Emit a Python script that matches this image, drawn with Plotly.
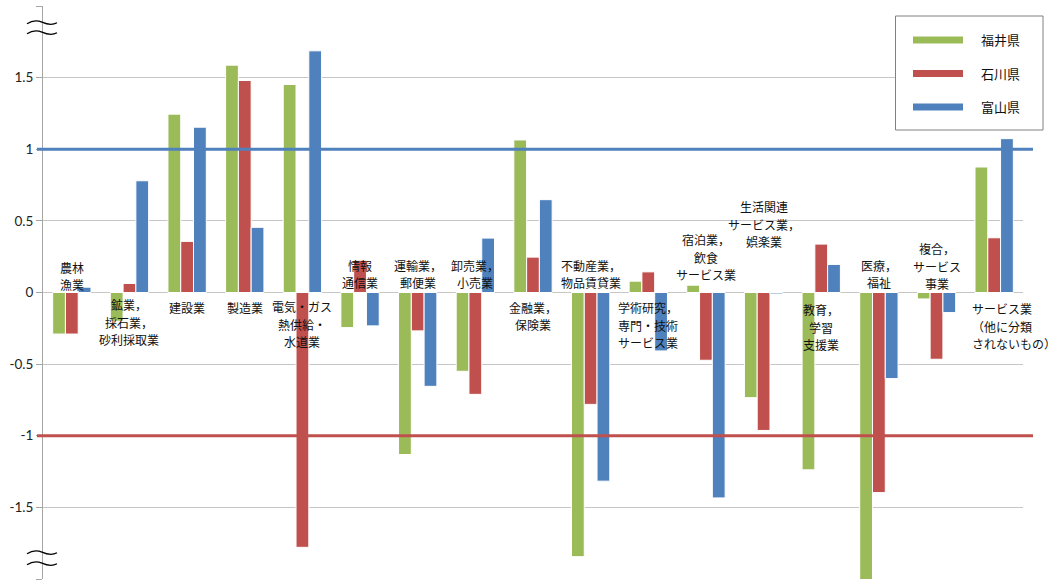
import plotly.graph_objects as go

# 産業別の特化係数（北陸3県）
categories = [
    "農林漁業", "鉱業，採石業，砂利採取業", "建設業", "製造業",
    "電気・ガス・熱供給・水道業", "情報通信業", "運輸業，郵便業", "卸売業，小売業",
    "金融業，保険業", "不動産業，物品賃貸業", "学術研究，専門・技術サービス業",
    "宿泊業，飲食サービス業", "生活関連サービス業，娯楽業", "教育，学習支援業",
    "医療，福祉", "複合サービス事業", "サービス業（他に分類されないもの）",
]
fukui = [-0.29, -0.20, 1.245, 1.587, 1.452, -0.245, -1.131, -0.55, 1.065,
         -1.844, 0.079, 0.051, -0.734, -1.238, -2.10, -0.045, 0.876]
ishikawa = [-0.29, 0.063, 0.357, 1.48, -1.779, 0.225, -0.268, -0.711, 0.247,
            -0.781, 0.144, -0.473, -0.963, 0.338, -1.397, -0.466, 0.382]
toyama = [0.037, 0.78, 1.154, 0.455, 1.687, -0.233, -0.655, 0.38, 0.648,
          -1.317, -0.408, -1.434, -0.01, 0.196, -0.601, -0.14, 1.074]

series_names = ["福井県", "石川県", "富山県"]
series_colors = ["#9BBB59", "#C0504D", "#4F81BD"]

# 図中に置く産業名（行ごと）
label_lines = [
    ["農林", "漁業"], ["鉱業，", "採石業，", "砂利採取業"], ["建設業"], ["製造業"],
    ["電気・ガス", "熱供給・", "水道業"], ["情報", "通信業"], ["運輸業，", "郵便業"],
    ["卸売業，", "小売業"], ["金融業，", "保険業"], ["不動産業，", "物品賃貸業"],
    ["学術研究，", "専門・技術", "サービス業"], ["宿泊業，", "飲食", "サービス業"],
    ["生活関連", "サービス業，", "娯楽業"], ["教育，", "学習", "支援業"], ["医療，", "福祉"],
    ["複合，", "サービス", "事業"], ["サービス業", "（他に分類", "されないもの）"],
]
label_y = [0.117, -0.208, -0.105, -0.105, -0.222, 0.131, 0.131, 0.131, -0.166,
           0.131, -0.229, 0.247, 0.478, -0.243, 0.128, 0.184, -0.236]

y_ticks = [-2, -1.5, -1, -0.5, 0, 0.5, 1, 1.5, 2]
y_ticktext = ["", "-1.5", "-1", "-0.5", "0", "0.5", "1", "1.5", ""]

# 基準線（±1）
upper_ref, lower_ref = 1, -1

W, H = 1056, 580
ML, MR, MT, MB = 43, 33, 6, 1
PW, PH = W - ML - MR, H - MT - MB
LINE_STEP = 17.4
LABEL_SIZE = 12


def px(x):
    return (x - ML) / PW


def py(y):
    return (H - MB - y) / PH


fig = go.Figure()
for name, vals, col in zip(series_names, [fukui, ishikawa, toyama], series_colors):
    fig.add_trace(go.Bar(
        x=list(range(len(categories))), y=vals, name=name,
        marker=dict(color=col, line=dict(color="white", width=1)),
        hovertext=categories, showlegend=False,
    ))

shapes = []
# ±1 の基準線
for val, col in [(upper_ref, series_colors[2]), (lower_ref, series_colors[1])]:
    shapes.append(dict(type="line", xref="paper", yref="y",
                       x0=px(37), x1=px(1033), y0=val, y1=val,
                       line=dict(color=col, width=3), layer="above"))


# 軸の省略記号（≈）
def tilde(y0):
    pts = [(27, y0 + 0.8), (33, y0 - 3.2), (38, y0 - 2.6), (42, y0 - 0.8),
           (52, y0 + 2.6), (57, y0 - 0.2)]
    (x0, a), (x1, b), (x2, c), (x3, d), (x4, e), (x5, f) = pts
    return (f"M {px(x0)},{py(a)} C {px(x1)},{py(b)} {px(x2)},{py(c)} {px(x3)},{py(d)} "
            f"S {px(x4)},{py(e)} {px(x5)},{py(f)}")


for yy in [23, 33, 553, 564]:
    shapes.append(dict(type="path", xref="paper", yref="paper", path=tilde(yy),
                       line=dict(color="black", width=1.3)))

# 凡例
shapes.append(dict(type="rect", xref="paper", yref="paper",
                   x0=px(895.5), x1=px(1043), y0=py(16), y1=py(130),
                   fillcolor="white", line=dict(color="#808080", width=1), layer="above"))
annotations = []
for i, (name, col) in enumerate(zip(series_names, series_colors)):
    yy = 40 + i * 33.5
    shapes.append(dict(type="line", xref="paper", yref="paper",
                       x0=px(913), x1=px(963), y0=py(yy), y1=py(yy),
                       line=dict(color=col, width=7), layer="above"))
    annotations.append(dict(xref="paper", yref="paper", x=px(979), y=py(yy),
                            text=name, showarrow=False, xanchor="left", yanchor="middle",
                            font=dict(family="Noto Sans CJK JP", size=13, color="#111")))

# 産業名ラベル（1行ずつ配置）
for i, (lines, yv) in enumerate(zip(label_lines, label_y)):
    last = i == len(label_lines) - 1
    n = len(lines)
    for k, line in enumerate(lines):
        annotations.append(dict(
            x=i, y=yv, xref="x", yref="y", text=line, showarrow=False,
            xanchor="left" if last else "center", yanchor="middle",
            xshift=-23 if last else 0, yshift=((n - 1) / 2 - k) * LINE_STEP,
            borderpad=0,
            font=dict(family="Noto Sans CJK JP", size=LABEL_SIZE, color="#111"),
        ))

fig.update_layout(
    width=W, height=H, margin=dict(l=ML, r=MR, t=MT, b=MB, pad=0),
    barmode="group", bargap=0.335, bargroupgap=0,
    plot_bgcolor="white", paper_bgcolor="white",
    shapes=shapes, annotations=annotations, showlegend=False,
    xaxis=dict(range=[-0.5, len(categories) - 0.5], showticklabels=False,
               showgrid=False, zeroline=False, showline=False, ticks=""),
    yaxis=dict(range=[-2, 2], tickvals=y_ticks, ticktext=y_ticktext,
               showgrid=True, gridcolor="#C6C6C6", gridwidth=1, zeroline=False,
               showline=True, linecolor="#A6A6A6", linewidth=1,
               ticks="outside", ticklen=6, tickcolor="#A6A6A6",
               tickfont=dict(family="Lato", size=13.5, color="#222")),
)

fig.write_html("out.html")
